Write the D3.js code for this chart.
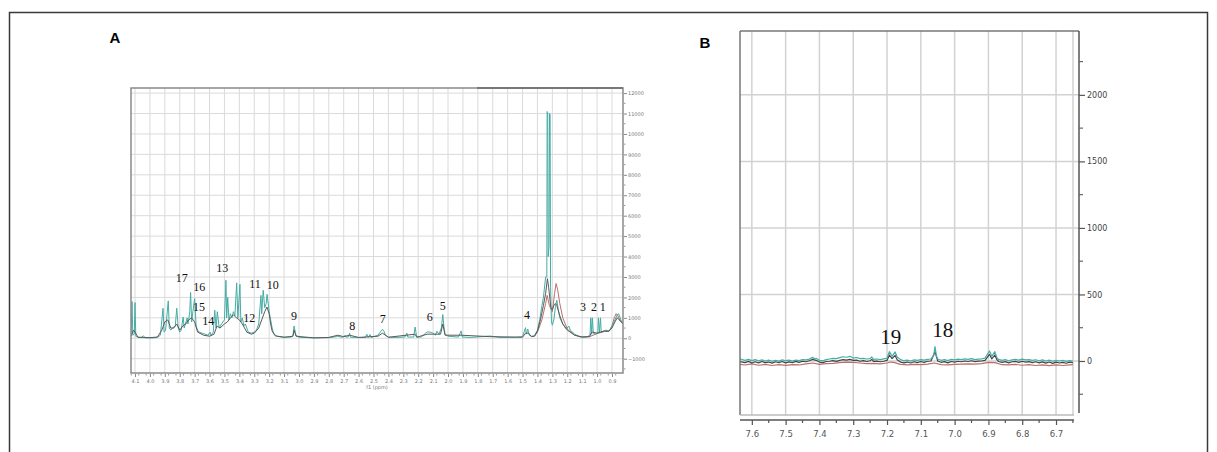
<!DOCTYPE html>
<html>
<head>
<meta charset="utf-8">
<script src="https://cdn.jsdelivr.net/npm/d3@7"></script>
<style>
  body { margin: 0; background: #fff; }
  svg { display: block; }
</style>
</head>
<body>
<div id="chart"></div>
<script>
// ---- DATA (ppm, intensity) ----

// panel A, 1H spectrum 4.1 - 0.9 ppm
const tealA = [
  [4.127,100],[4.12,1800],[4.115,150],[4.105,200],[4.10,1750],[4.095,100],[4.085,60],[4.06,30],
  [4.045,120],[4.03,20],[3.98,20],[3.95,40],[3.93,150],[3.912,1470],[3.905,300],[3.895,400],
  [3.877,1830],[3.87,500],[3.86,400],[3.85,500],[3.83,600],[3.82,1470],[3.81,500],[3.80,300],
  [3.79,400],[3.777,1040],[3.77,500],[3.75,1000],[3.745,700],[3.74,900],[3.733,1300],[3.727,2240],
  [3.72,800],[3.712,1300],[3.70,1940],[3.69,600],[3.68,400],[3.67,300],[3.65,250],[3.63,200],
  [3.61,150],[3.597,300],[3.59,150],[3.575,300],[3.565,1370],[3.556,500],[3.548,1300],[3.535,500],
  [3.52,700],[3.50,900],[3.49,2840],[3.485,1000],[3.478,2000],[3.47,900],[3.46,1200],[3.45,1000],
  [3.44,1300],[3.43,1100],[3.418,2710],[3.41,1000],[3.396,2640],[3.39,800],[3.38,1000],[3.37,600],
  [3.36,700],[3.35,500],[3.34,300],[3.32,250],[3.30,300],[3.285,400],[3.27,700],[3.255,2100],
  [3.25,1200],[3.24,2350],[3.23,1500],[3.22,1700],[3.214,2150],[3.20,1300],[3.19,900],[3.18,500],
  [3.17,250],[3.15,100],[3.10,50],[3.05,60],[3.04,150],[3.033,600],[3.02,150],[3.00,50],
  [2.90,20],[2.80,30],[2.75,80],[2.74,100],[2.72,60],[2.70,60],[2.69,150],[2.685,60],
  [2.67,60],[2.66,250],[2.655,50],[2.60,40],[2.555,40],[2.545,200],[2.535,40],[2.523,180],
  [2.515,40],[2.47,150],[2.45,350],[2.44,440],[2.43,350],[2.42,150],[2.40,50],[2.35,40],
  [2.29,60],[2.276,250],[2.27,60],[2.23,60],[2.221,550],[2.21,60],[2.18,60],[2.15,250],
  [2.14,310],[2.12,300],[2.10,250],[2.085,150],[2.075,350],[2.06,200],[2.045,500],[2.035,1160],
  [2.028,600],[2.02,200],[2.00,100],[1.93,60],[1.912,360],[1.905,60],[1.85,40],[1.72,110],
  [1.65,40],[1.55,50],[1.50,80],[1.48,520],[1.475,200],[1.465,450],[1.455,150],[1.44,100],
  [1.42,120],[1.40,400],[1.385,900],[1.37,1600],[1.36,2000],[1.345,3000],[1.337,3000],[1.335,11100],
  [1.331,11050],[1.328,4000],[1.322,4500],[1.319,11000],[1.315,10950],[1.312,2500],[1.306,800],[1.30,640],
  [1.29,900],[1.28,1500],[1.27,1860],
  [1.26,1400],[1.25,1000],[1.23,700],[1.21,480],[1.20,500],[1.19,600],[1.18,400],[1.15,200],
  [1.12,80],[1.10,60],[1.06,80],[1.047,200],[1.042,1000],[1.036,200],[1.031,1000],[1.025,250],
  [1.01,200],[0.995,250],[0.991,1000],[0.984,300],[0.977,1000],[0.972,300],[0.96,350],[0.94,400],
  [0.92,350],[0.90,600],[0.88,900],[0.865,1150],[0.855,1200],[0.845,1000],[0.835,800],[0.826,700]
];

const grayA = [
  [4.127,100],[4.11,400],[4.10,300],[4.08,50],[4.00,30],[3.95,60],[3.92,400],[3.90,800],
  [3.88,900],[3.86,500],[3.84,500],[3.82,700],[3.80,400],[3.78,600],[3.76,700],[3.74,900],
  [3.72,1000],[3.70,800],[3.68,300],[3.64,150],[3.60,100],[3.57,200],[3.55,600],[3.53,500],
  [3.50,700],[3.48,800],[3.46,1000],[3.44,1150],[3.42,1000],[3.40,900],[3.38,700],[3.35,300],
  [3.32,200],[3.30,250],[3.27,500],[3.25,900],[3.23,1300],[3.215,1530],[3.20,1200],[3.19,700],
  [3.18,350],[3.16,120],[3.10,50],[3.04,100],[3.033,400],[3.02,100],[2.90,20],[2.80,40],
  [2.74,150],[2.70,80],[2.66,150],[2.60,40],[2.47,100],[2.44,250],[2.40,50],[2.221,200],
  [2.21,50],[2.14,200],[2.10,200],[2.05,200],[2.035,700],[2.02,150],[1.912,150],[1.72,80],
  [1.50,50],[1.48,250],[1.46,250],[1.44,80],[1.42,100],[1.40,350],[1.38,900],[1.36,1600],
  [1.345,2200],[1.333,2920],[1.325,2500],[1.31,1500],[1.30,1400],[1.29,1600],[1.28,1700],[1.27,1600],
  [1.25,1100],[1.23,700],[1.20,400],[1.15,150],[1.10,60],[1.05,80],[1.04,250],[1.03,300],
  [1.00,250],[0.98,300],[0.95,350],[0.92,350],[0.90,500],[0.88,800],[0.865,1000],[0.85,900],
  [0.826,700]
];

// red sample is hidden under the grey trace except around the 1.27 and 0.87 ppm bands
const redA = [
  [1.42,100],[1.40,300],[1.37,900],[1.345,1700],[1.335,2100],[1.32,1600],[1.30,1300],[1.285,2200],
  [1.275,2680],[1.265,2400],[1.25,1700],[1.23,1000],[1.20,450],[1.15,150],[1.10,60],[1.05,80],
  [1.00,230],[0.95,330],[0.92,330],[0.90,600],[0.885,1000],[0.872,1210],[0.86,1100],[0.845,850],
  [0.826,700]
];

const peakLabelsA = [
  { t: "17", ppm: 3.787, v: 2965 }, { t: "16", ppm: 3.669, v: 2495 }, { t: "15", ppm: 3.671, v: 1545 },
  { t: "14", ppm: 3.608, v: 860 }, { t: "13", ppm: 3.514, v: 3425 }, { t: "12", ppm: 3.333, v: 978 },
  { t: "11", ppm: 3.295, v: 2657 }, { t: "10", ppm: 3.176, v: 2608 }, { t: "9", ppm: 3.033, v: 1105 },
  { t: "8", ppm: 2.642, v: 601 }, { t: "7", ppm: 2.438, v: 958 }, { t: "6", ppm: 2.123, v: 1056 },
  { t: "5", ppm: 2.036, v: 1594 }, { t: "4", ppm: 1.470, v: 1124 }, { t: "3", ppm: 1.094, v: 1545 },
  { t: "2", ppm: 1.020, v: 1545 }, { t: "1", ppm: 0.962, v: 1545 }
];

const xTicksA = d3.range(41, 8, -1).map(d => d / 10);
const yTicksA = d3.range(-1000, 12001, 1000);

// panel B, aromatic zoom 7.6 - 6.7 ppm
const tealB = [
  [7.635,15],[7.62,5],[7.61,12],[7.60,3],[7.59,10],[7.58,2],[7.57,8],[7.56,0],[7.55,6],[7.54,-2],
  [7.53,5],[7.52,0],[7.51,8],[7.50,2],[7.49,6],[7.48,0],[7.47,7],[7.46,3],[7.45,10],[7.44,8],
  [7.43,14],[7.42,28],[7.415,15],[7.41,20],[7.40,5],[7.39,2],[7.38,10],[7.37,15],[7.36,20],[7.35,18],
  [7.34,25],[7.33,32],[7.32,28],[7.31,35],[7.30,22],[7.29,26],[7.28,18],[7.27,20],[7.26,15],[7.25,18],
  [7.245,30],[7.24,12],[7.23,15],[7.22,10],[7.21,16],[7.20,20],[7.193,70],[7.185,35],[7.176,68],[7.17,30],
  [7.16,10],[7.15,2],[7.14,6],[7.13,0],[7.12,8],[7.11,4],[7.10,10],[7.09,6],[7.08,12],[7.07,15],
  [7.062,40],[7.058,108],[7.054,40],[7.05,15],[7.04,5],[7.03,10],[7.02,3],[7.01,12],[7.00,8],[6.99,14],
  [6.98,10],[6.97,16],[6.96,12],[6.95,18],[6.94,10],[6.93,14],[6.92,16],[6.91,22],[6.897,75],[6.89,35],
  [6.881,70],[6.875,25],[6.87,12],[6.86,5],[6.85,10],[6.84,2],[6.83,8],[6.82,12],[6.81,6],[6.80,14],
  [6.79,8],[6.78,10],[6.77,4],[6.76,9],[6.75,2],[6.74,8],[6.73,0],[6.72,6],[6.71,-2],[6.70,5],
  [6.69,0],[6.68,4],[6.67,-3],[6.66,3],[6.65,0]
];

const redB = [
  [7.635,-25],[7.62,-30],[7.60,-22],[7.58,-32],[7.56,-26],[7.54,-34],[7.52,-28],[7.50,-33],[7.48,-27],
  [7.46,-30],[7.44,-22],[7.42,-15],[7.40,-25],[7.38,-20],[7.36,-18],[7.34,-12],[7.32,-8],[7.30,-10],
  [7.28,-15],[7.26,-20],[7.24,-18],[7.22,-22],[7.20,-15],[7.19,-8],[7.18,-10],[7.16,-25],[7.14,-30],
  [7.12,-26],[7.10,-28],[7.08,-24],[7.06,-15],[7.04,-28],[7.02,-30],[7.00,-26],[6.98,-24],[6.96,-22],
  [6.94,-24],[6.92,-20],[6.90,-10],[6.88,-12],[6.86,-28],[6.84,-30],[6.82,-26],[6.80,-32],[6.78,-28],
  [6.76,-34],[6.74,-30],[6.72,-35],[6.70,-30],[6.68,-34],[6.66,-30],[6.65,-28]
];

const grayB = [
  [7.635,-5],[7.62,-12],[7.61,-3],[7.60,-15],[7.59,-6],[7.58,-14],[7.57,-4],[7.56,-12],[7.55,-8],[7.54,-16],
  [7.53,-6],[7.52,-12],[7.51,-4],[7.50,-14],[7.49,-7],[7.48,-12],[7.47,-3],[7.46,-10],[7.45,-2],[7.44,-6],
  [7.43,2],[7.42,12],[7.41,5],[7.40,-8],[7.39,-12],[7.38,-4],[7.37,-2],[7.36,2],[7.35,-3],[7.34,5],
  [7.33,10],[7.32,6],[7.31,12],[7.30,4],[7.29,6],[7.28,-2],[7.27,3],[7.26,-4],[7.25,2],[7.245,12],
  [7.24,-3],[7.23,-1],[7.22,-6],[7.21,-2],[7.20,4],[7.193,45],[7.185,18],[7.176,42],[7.17,10],[7.16,-8],
  [7.15,-14],[7.14,-8],[7.13,-15],[7.12,-6],[7.11,-12],[7.10,-4],[7.09,-10],[7.08,-2],[7.07,0],[7.058,70],
  [7.05,0],[7.04,-10],[7.03,-5],[7.02,-14],[7.01,-4],[7.00,-8],[6.99,-2],[6.98,-6],[6.97,0],[6.96,-4],
  [6.95,2],[6.94,-5],[6.93,-1],[6.92,0],[6.91,5],[6.897,50],[6.89,15],[6.881,45],[6.875,10],[6.87,-4],
  [6.86,-10],[6.85,-5],[6.84,-14],[6.83,-6],[6.82,-3],[6.81,-10],[6.80,-2],[6.79,-8],[6.78,-5],[6.77,-12],
  [6.76,-6],[6.75,-14],[6.74,-7],[6.73,-16],[6.72,-8],[6.71,-18],[6.70,-9],[6.69,-15],[6.68,-10],[6.67,-17],
  [6.66,-9],[6.65,-12]
];

const peakLabelsB = [
  { t: "19", ppm: 7.189, v: 183 }, { t: "18", ppm: 7.035, v: 233 }
];

const xTicksB = d3.range(76, 66, -1).map(d => d / 10);
const yTicksB = [0, 500, 1000, 1500, 2000];

const TEAL = "#45aca6";
const RED = "#b8706e";
const GRAY = "#5a5a5a";
const GRID = "#dadada";

const W = 1217, H = 452;

const svg = d3.select("#chart").append("svg").attr("width", W).attr("height", H);

// outer figure border
svg.append("rect")
  .attr("x", 9.5).attr("y", 12.5).attr("width", 1198).attr("height", 470)
  .attr("fill", "none").attr("stroke", "#3a3a3a").attr("stroke-width", 1.5);

// panel letters
svg.append("text").attr("x", 115).attr("y", 43).attr("text-anchor", "middle")
  .style("font", "bold 15px 'Liberation Sans', Arial, sans-serif").text("A");
svg.append("text").attr("x", 705).attr("y", 48).attr("text-anchor", "middle")
  .style("font", "bold 15px 'Liberation Sans', Arial, sans-serif").text("B");

// ================= PANEL A =================
const xA = d3.scaleLinear().domain([4.127, 0.826]).range([131, 623]);
const yA = d3.scaleLinear().domain([-1700, 12250]).range([373, 88]);

const gA = svg.append("g");

svg.append("clipPath").attr("id", "clipA").append("rect")
  .attr("x", 131).attr("y", 88).attr("width", 492).attr("height", 285);

// grid
gA.selectAll("line.vg").data(xTicksA).join("line").attr("class", "vg")
  .attr("x1", d => xA(d)).attr("x2", d => xA(d)).attr("y1", 88).attr("y2", 373)
  .attr("stroke", GRID).attr("stroke-width", 1);
gA.selectAll("line.hg").data(yTicksA).join("line").attr("class", "hg")
  .attr("x1", 131).attr("x2", 623).attr("y1", d => yA(d)).attr("y2", d => yA(d))
  .attr("stroke", GRID).attr("stroke-width", 1);

const lineA = d3.line().x(d => xA(d[0])).y(d => yA(d[1]));
const specA = gA.append("g").attr("clip-path", "url(#clipA)");
[[redA, RED], [tealA, TEAL], [grayA, GRAY]].forEach(([data, c]) => {
  specA.append("path").datum(data).attr("d", lineA)
    .attr("fill", "none").attr("stroke", c).attr("stroke-width", 1)
    .attr("stroke-linejoin", "round");
});

// frame
gA.append("rect").attr("x", 131).attr("y", 88).attr("width", 492).attr("height", 285)
  .attr("fill", "none").attr("stroke", "#8a8a8a").attr("stroke-width", 1.5);
gA.append("line").attr("x1", 477).attr("x2", 623).attr("y1", 88).attr("y2", 88)
  .attr("stroke", "#777").attr("stroke-width", 2);

// bottom axis
const axA = d3.axisBottom(xA).tickValues(xTicksA).tickSize(3).tickFormat(d3.format(".1f"));
const gxA = gA.append("g").attr("transform", "translate(0,374)").call(axA);
gxA.select(".domain").remove();
gxA.selectAll(".tick line").attr("stroke", "#888");
gxA.selectAll(".tick text").attr("fill", "#777").attr("dy", "0.5em")
  .style("font", "5px 'DejaVu Sans', sans-serif");
gA.selectAll("line.mxA").data(d3.range(4.125, 0.83, -0.05)).join("line").attr("class", "mxA")
  .attr("x1", d => xA(d)).attr("x2", d => xA(d)).attr("y1", 374).attr("y2", 375.5)
  .attr("stroke", "#999");
gA.append("text").attr("x", 377).attr("y", 389).attr("text-anchor", "middle")
  .attr("fill", "#777").style("font", "5px 'DejaVu Sans', sans-serif").text("f1 (ppm)");

// right axis
const ayA = d3.axisRight(yA).tickValues(yTicksA).tickSize(3).tickFormat(d3.format("d"));
const gyA = gA.append("g").attr("transform", "translate(624,0)").call(ayA);
gyA.select(".domain").remove();
gyA.selectAll(".tick line").attr("stroke", "#888");
gyA.selectAll(".tick text").attr("fill", "#777").attr("x", 4)
  .style("font", "5px 'DejaVu Sans', sans-serif");
gA.selectAll("line.myA").data(d3.range(-1500, 12001, 1000)).join("line").attr("class", "myA")
  .attr("x1", 624).attr("x2", 625.5).attr("y1", d => yA(d)).attr("y2", d => yA(d))
  .attr("stroke", "#999");

// peak labels
gA.selectAll("text.pl").data(peakLabelsA).join("text").attr("class", "pl")
  .attr("x", d => xA(d.ppm)).attr("y", d => yA(d.v)).attr("text-anchor", "middle")
  .attr("dominant-baseline", "central").attr("fill", "#111")
  .style("font", "12px 'Liberation Serif', 'DejaVu Serif', serif").text(d => d.t);

// ================= PANEL B =================
const xB = d3.scaleLinear().domain([7.635, 6.632]).range([740, 1079]);
const yB = d3.scaleLinear().domain([-406, 2480]).range([415, 31]);

const gB = svg.append("g");
svg.append("clipPath").attr("id", "clipB").append("rect")
  .attr("x", 740).attr("y", 31).attr("width", 339).attr("height", 384);

gB.selectAll("line.vg").data(xTicksB).join("line").attr("class", "vg")
  .attr("x1", d => xB(d)).attr("x2", d => xB(d)).attr("y1", 31).attr("y2", 415)
  .attr("stroke", "#d2d2d2").attr("stroke-width", 1.5);
gB.append("line").attr("x1", 1073).attr("x2", 1073).attr("y1", 31).attr("y2", 415)
  .attr("stroke", "#d2d2d2").attr("stroke-width", 1.5);
gB.selectAll("line.hg").data(yTicksB).join("line").attr("class", "hg")
  .attr("x1", 740).attr("x2", 1079).attr("y1", d => yB(d)).attr("y2", d => yB(d))
  .attr("stroke", "#d2d2d2").attr("stroke-width", 1.5);

const lineB = d3.line().x(d => xB(d[0])).y(d => yB(d[1]));
const specB = gB.append("g").attr("clip-path", "url(#clipB)");
[[redB, RED], [grayB, "#444"], [tealB, TEAL]].forEach(([data, c]) => {
  specB.append("path").datum(data).attr("d", lineB)
    .attr("fill", "none").attr("stroke", c).attr("stroke-width", 1.2)
    .attr("stroke-linejoin", "round");
});

// frame lines
gB.append("line").attr("x1", 740).attr("x2", 740).attr("y1", 31).attr("y2", 415)
  .attr("stroke", "#777").attr("stroke-width", 1.5);
gB.append("line").attr("x1", 740).attr("x2", 1079).attr("y1", 31).attr("y2", 31)
  .attr("stroke", "#777").attr("stroke-width", 1.5);
gB.append("line").attr("x1", 740).attr("x2", 1074).attr("y1", 415).attr("y2", 415)
  .attr("stroke", "#bbb").attr("stroke-width", 1.5);
gB.append("line").attr("x1", 1079).attr("x2", 1079).attr("y1", 31).attr("y2", 413)
  .attr("stroke", "#555").attr("stroke-width", 1.5);

// bottom axis
const axB = d3.axisBottom(xB).tickValues(xTicksB).tickSize(5).tickFormat(d3.format(".1f"));
const gxB = gB.append("g").attr("transform", "translate(0,420)").call(axB);
gxB.select(".domain").attr("d", `M740,0H1074`).attr("stroke", "#555").attr("stroke-width", 1.5);
gxB.selectAll(".tick line").attr("stroke", "#555").attr("stroke-width", 1.2);
gxB.selectAll(".tick text").attr("fill", "#555").attr("y", 11)
  .style("font", "8.5px 'DejaVu Sans', sans-serif");
gB.selectAll("line.mxB").data(d3.range(7.55, 6.64, -0.1)).join("line").attr("class", "mxB")
  .attr("x1", d => xB(d)).attr("x2", d => xB(d)).attr("y1", 420).attr("y2", 423)
  .attr("stroke", "#555").attr("stroke-width", 1.2);

// right axis
const ayB = d3.axisRight(yB).tickValues(yTicksB).tickSize(6).tickFormat(d3.format("d"));
const gyB = gB.append("g").attr("transform", "translate(1079,0)").call(ayB);
gyB.select(".domain").remove();
gyB.selectAll(".tick line").attr("stroke", "#555").attr("stroke-width", 1.2);
gyB.selectAll(".tick text").attr("fill", "#444").attr("x", 8)
  .style("font", "8px 'DejaVu Sans', sans-serif");
gB.selectAll("line.myB").data([-250, 250, 750, 1250, 1750, 2250]).join("line").attr("class", "myB")
  .attr("x1", 1079).attr("x2", 1083).attr("y1", d => yB(d)).attr("y2", d => yB(d))
  .attr("stroke", "#666").attr("stroke-width", 1.2);

gB.selectAll("text.pl").data(peakLabelsB).join("text").attr("class", "pl")
  .attr("x", d => xB(d.ppm)).attr("y", d => yB(d.v)).attr("text-anchor", "middle")
  .attr("dominant-baseline", "central").attr("fill", "#111")
  .style("font", "21px 'Liberation Serif', 'DejaVu Serif', serif").text(d => d.t);
</script>
</body>
</html>
